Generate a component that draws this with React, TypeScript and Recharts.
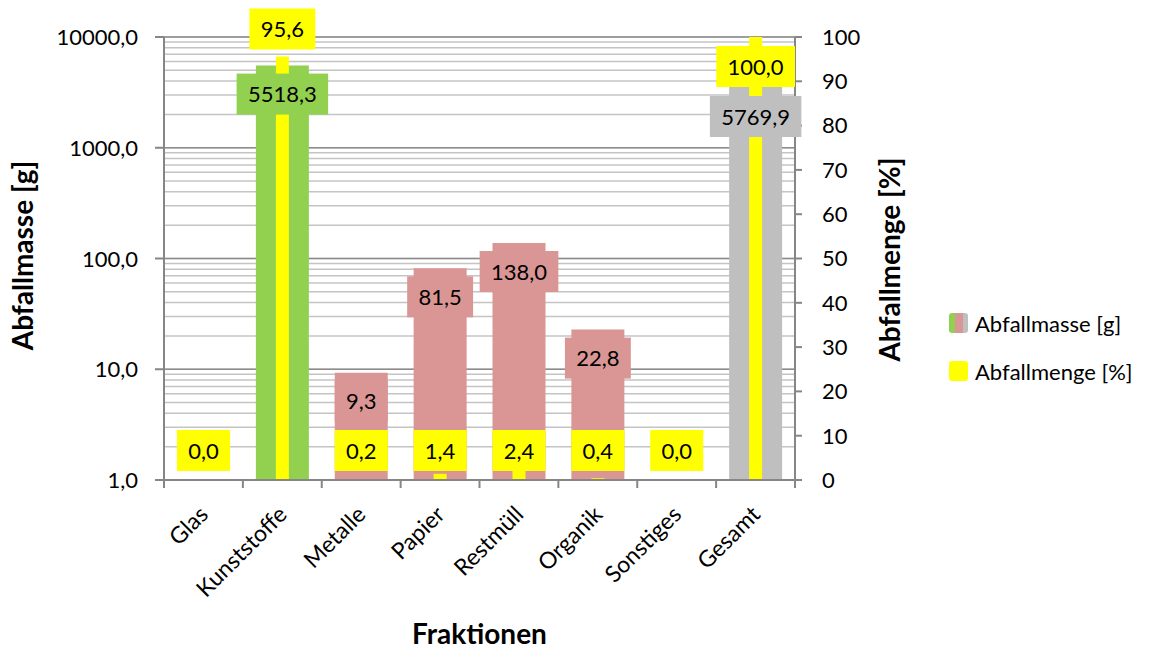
import { Bar, BarChart, CartesianGrid, Cell, LabelList, XAxis, YAxis } from 'recharts'

const categories = ['Glas', 'Kunststoffe', 'Metalle', 'Papier', 'Restmüll', 'Organik', 'Sonstiges', 'Gesamt']
const massValues: (number | null)[] = [null, 5518.3, 9.3, 81.5, 138.0, 22.8, null, 5769.9]
const shareValues = [0.0, 95.6, 0.2, 1.4, 2.4, 0.4, 0.0, 100.0]
const massTicks = [1, 10, 100, 1000, 10000]
const shareTicks = [0, 10, 20, 30, 40, 50, 60, 70, 80, 90, 100]

const GREEN = '#92D050'
const ROSE = '#D99694'
const GREY = '#BFBFBF'
const YELLOW = '#FFFF00'
const massColors = [ROSE, GREEN, ROSE, ROSE, ROSE, ROSE, ROSE, GREY]

// log gridlines: every decade plus 2..9 within it
const allMassTicks = massTicks.flatMap((d, i) =>
  i < massTicks.length - 1 ? [d, ...[2, 3, 4, 5, 6, 7, 8, 9].map((k) => k * d)] : [d],
)

const data = categories.map((name, i) => ({ name, mass: massValues[i], share: shareValues[i] }))

const W = 1162
const H = 651
const PLOT_LEFT = 164
const PLOT_RIGHT = 795
const PLOT_TOP = 37
const PLOT_BOTTOM = 480
const FONT = 'Lato, "Open Sans", sans-serif'
const AXIS = '#868686'
const BOX_H = 41

const fmt = (v: number) => v.toFixed(1).replace('.', ',')
const boxWidth = (s: string) => s.replace(',', '').length * 12.8 + 5.5 + 22

// percent labels sit above their bar; tiny bars share one row, the full bar gets it inside
function shareBoxTop(barTop: number) {
  const base = barTop > PLOT_BOTTOM - 20 ? PLOT_BOTTOM - 2 : barTop
  const above = base - 7 - BOX_H
  return above >= 0 ? above : barTop + 9
}

function ShareLabel(props: any) {
  const { x, y, width, value } = props
  const i = categories.indexOf(value)
  if (i < 0) return null
  const text = fmt(shareValues[i])
  const bw = boxWidth(text)
  const cx = x + width / 2
  const top = shareBoxTop(shareValues[i] === 0 ? PLOT_BOTTOM : y)
  return (
    <g>
      <rect x={cx - bw / 2} y={top} width={bw} height={BOX_H} fill={YELLOW} />
      <text x={cx} y={top + BOX_H / 2 + 8} textAnchor="middle" fontFamily={FONT} fontSize={22} fill="#000">
        {text}
      </text>
    </g>
  )
}

function MassLabel(props: any) {
  const { x, y, width, value } = props
  const i = categories.indexOf(value)
  if (i < 0 || massValues[i] == null) return null
  const text = fmt(Number(massValues[i]))
  const bw = boxWidth(text)
  const cx = x + width / 2
  let top = y + 8
  // keep clear of the percent label when that one sits inside its bar
  const shareTop = PLOT_TOP + (PLOT_BOTTOM - PLOT_TOP) * (1 - shareValues[i] / 100)
  const sBox = shareBoxTop(shareTop)
  if (sBox > shareTop) top = Math.max(top, sBox + BOX_H + 9)
  return (
    <g>
      <rect x={cx - bw / 2} y={top} width={bw} height={BOX_H} fill={massColors[i]} />
      <text x={cx} y={top + BOX_H / 2 + 8} textAnchor="middle" fontFamily={FONT} fontSize={22} fill="#000">
        {text}
      </text>
    </g>
  )
}

function MassTick(props: any) {
  const { x, y, payload } = props
  if (!massTicks.includes(Number(payload.value))) return null
  return (
    <g>
      <line x1={x - 9} x2={x} y1={y} y2={y} stroke={AXIS} strokeWidth={2} />
      <text x={x - 26} y={y + 8} textAnchor="end" fontFamily={FONT} fontSize={22} fill="#000">
        {fmt(Number(payload.value))}
      </text>
    </g>
  )
}

function CategoryTick(props: any) {
  const { x, y, payload, index } = props
  const band = (PLOT_RIGHT - PLOT_LEFT) / categories.length
  const tx = x + 6
  const ty = y + 36
  return (
    <g>
      <line x1={x - band / 2} x2={x - band / 2} y1={y} y2={y + 8} stroke={AXIS} strokeWidth={2} />
      {index === categories.length - 1 && (
        <line x1={x + band / 2} x2={x + band / 2} y1={y} y2={y + 8} stroke={AXIS} strokeWidth={2} />
      )}
      <text
        x={tx}
        y={ty}
        textAnchor="end"
        transform={`rotate(-45 ${tx} ${ty})`}
        fontFamily={FONT}
        fontSize={23}
        fill="#000"
      >
        {payload.value}
      </text>
    </g>
  )
}

const titleStyle = { fontFamily: FONT, fontSize: 28, fontWeight: 700, fill: '#000' }

export default function App() {
  return (
    <div style={{ position: 'absolute', left: 0, top: 0, width: W, height: H, background: '#fff' }}>
      <BarChart width={W} height={H} data={data} margin={{ top: PLOT_TOP, right: 0, bottom: 0, left: 0 }}>
        <CartesianGrid yAxisId="mass" xAxisId="m" vertical={false} stroke="#c4c4c4" strokeWidth={1.5} />
        <CartesianGrid yAxisId="massMajor" xAxisId="m" vertical={false} stroke="#8c8c8c" strokeWidth={1.5} />
        <XAxis
          xAxisId="m"
          dataKey="name"
          height={H - PLOT_BOTTOM}
          interval={0}
          tickSize={0}
          tickMargin={0}
          tickLine={false}
          axisLine={{ stroke: AXIS, strokeWidth: 2 }}
          tick={<CategoryTick />}
          label={(p: any) => (
            <text x={PLOT_LEFT + (PLOT_RIGHT - PLOT_LEFT) / 2} y={p.viewBox.y + 164} textAnchor="middle" {...titleStyle}>
              Fraktionen
            </text>
          )}
        />
        <XAxis xAxisId="p" dataKey="name" hide />
        <XAxis xAxisId="ml" dataKey="name" hide />
        <XAxis xAxisId="pl" dataKey="name" hide />
        <YAxis
          yAxisId="mass"
          scale="log"
          domain={[1, 10000]}
          ticks={allMassTicks}
          interval={0}
          allowDataOverflow
          width={PLOT_LEFT}
          tickSize={0}
          tickMargin={0}
          tickLine={false}
          axisLine={{ stroke: AXIS, strokeWidth: 2 }}
          tick={<MassTick />}
          label={(p: any) => (
            <text x={33} y={p.viewBox.y + p.viewBox.height / 2 - 3} textAnchor="middle" transform={`rotate(-90 33 ${p.viewBox.y + p.viewBox.height / 2 - 3})`} {...titleStyle}>
              Abfallmasse [g]
            </text>
          )}
        />
        <YAxis yAxisId="massMajor" hide scale="log" domain={[1, 10000]} ticks={massTicks} interval={0} allowDataOverflow />
        <YAxis
          yAxisId="share"
          orientation="right"
          domain={[0, 100]}
          ticks={shareTicks}
          interval={0}
          width={W - PLOT_RIGHT}
          tickSize={7}
          tickMargin={20}
          tickLine={{ stroke: AXIS, strokeWidth: 2 }}
          axisLine={{ stroke: AXIS, strokeWidth: 2 }}
          tick={{ fill: '#000', fontSize: 22, fontFamily: FONT }}
          label={(p: any) => (
            <text x={900} y={p.viewBox.y + p.viewBox.height / 2 + 1} textAnchor="middle" transform={`rotate(-90 900 ${p.viewBox.y + p.viewBox.height / 2 + 1})`} {...titleStyle}>
              Abfallmenge [%]
            </text>
          )}
        />
        <Bar xAxisId="m" yAxisId="mass" dataKey="mass" barSize={53} isAnimationActive={false}>
          {data.map((d, i) => (
            <Cell key={d.name} fill={massColors[i]} />
          ))}
        </Bar>
        <Bar xAxisId="p" yAxisId="share" dataKey="share" barSize={13} fill={YELLOW} isAnimationActive={false} />
        <Bar xAxisId="ml" yAxisId="mass" dataKey="mass" barSize={53} fill="none" isAnimationActive={false}>
          <LabelList dataKey="name" content={(p: any) => <MassLabel {...p} />} />
        </Bar>
        <Bar
          xAxisId="pl"
          yAxisId="share"
          dataKey="share"
          barSize={13}
          minPointSize={1}
          fill="none"
          isAnimationActive={false}
        >
          <LabelList dataKey="name" content={(p: any) => <ShareLabel {...p} />} />
        </Bar>
      </BarChart>

      <div style={{ position: 'absolute', left: 949, top: 312, fontFamily: FONT, fontSize: 22, color: '#000' }}>
        <div style={{ display: 'flex', alignItems: 'center', height: 22 }}>
          <span style={{ display: 'flex', width: 19, height: 20, borderRadius: 3, overflow: 'hidden' }}>
            <span style={{ width: 6, background: GREEN }} />
            <span style={{ width: 8, background: ROSE }} />
            <span style={{ width: 5, background: GREY }} />
          </span>
          <span style={{ marginLeft: 7 }}>Abfallmasse [g]</span>
        </div>
        <div style={{ display: 'flex', alignItems: 'center', height: 22, marginTop: 26 }}>
          <span style={{ display: 'inline-block', width: 19, height: 20, borderRadius: 3, background: YELLOW }} />
          <span style={{ marginLeft: 7 }}>Abfallmenge [%]</span>
        </div>
      </div>
    </div>
  )
}
